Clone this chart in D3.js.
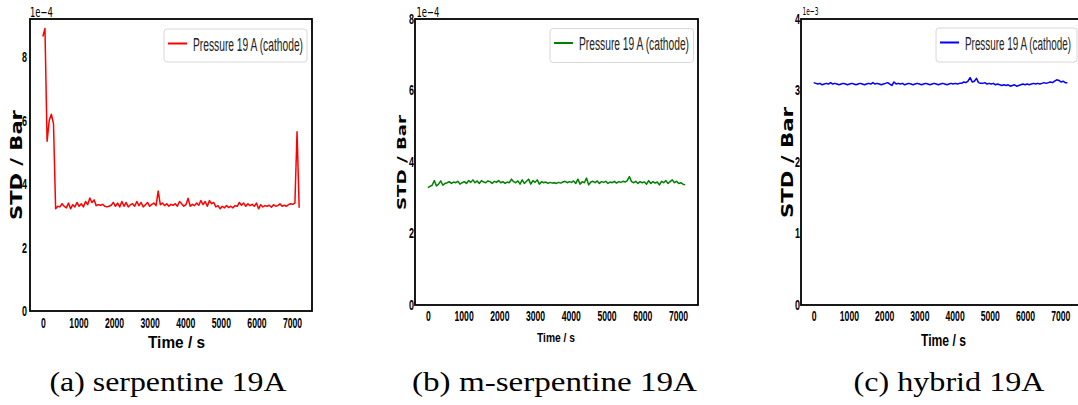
<!DOCTYPE html>
<html><head><meta charset="utf-8">
<script src="https://cdn.jsdelivr.net/npm/d3@7"></script>
<style>html,body{margin:0;padding:0;background:#fff;}svg{display:block;}</style>
</head><body>
<svg id="chart" width="1078" height="405"></svg>
<script>
// ---- data ----
const sampleInterval = 60; // s
const xTicks = [0,1000,2000,3000,4000,5000,6000,7000];
const yTicksA = [0,2,4,6,8];
const yTicksB = [0,2,4,6,8];
const yTicksC = [0,1,2,3,4];
const legendLabel = "Pressure 19 A (cathode)";
const captions = ["(a) serpentine 19A", "(b) m-serpentine 19A", "(c) hybrid 19A"];
const offsetTexts = ["1e\u22124", "1e\u22124", "1e\u22123"];
// STD in units of 1e-4 bar
const serpentine = [
 8.65,8.90,5.35,6.00,6.20,5.90,3.22,3.30,3.28,3.38,
 3.30,3.25,3.40,3.22,3.35,3.28,3.42,3.30,3.38,3.28,
 3.45,3.35,3.56,3.42,3.50,3.32,3.35,3.33,3.36,3.30,
 3.28,3.30,3.33,3.42,3.30,3.40,3.28,3.45,3.30,3.42,
 3.28,3.35,3.38,3.30,3.45,3.32,3.42,3.28,3.35,3.42,
 3.30,3.36,3.40,3.32,3.78,3.35,3.40,3.32,3.38,3.30,
 3.36,3.33,3.38,3.30,3.45,3.38,3.30,3.35,3.55,3.30,
 3.36,3.32,3.40,3.33,3.48,3.35,3.45,3.30,3.48,3.38,
 3.42,3.28,3.32,3.22,3.30,3.25,3.32,3.26,3.30,3.25,
 3.32,3.30,3.42,3.33,3.40,3.30,3.38,3.32,3.36,3.30,
 3.40,3.22,3.35,3.28,3.32,3.30,3.33,3.27,3.35,3.30,
 3.32,3.38,3.30,3.33,3.30,3.35,3.38,3.36,3.40,5.65,
 3.25];
// STD in units of 1e-4 bar
const mSerpentine = [
 3.28,3.32,3.35,3.48,3.33,3.38,3.47,3.35,3.40,3.42,
 3.45,3.40,3.44,3.42,3.46,3.38,3.42,3.45,3.40,3.48,
 3.43,3.50,3.42,3.47,3.40,3.48,3.44,3.42,3.47,3.45,
 3.40,3.46,3.43,3.48,3.42,3.45,3.40,3.44,3.42,3.52,
 3.45,3.42,3.47,3.38,3.50,3.40,3.46,3.52,3.38,3.48,
 3.43,3.50,3.38,3.45,3.42,3.44,3.40,3.43,3.41,3.42,
 3.40,3.43,3.41,3.44,3.46,3.42,3.45,3.43,3.47,3.40,
 3.52,3.38,3.45,3.42,3.55,3.36,3.44,3.46,3.42,3.47,
 3.40,3.45,3.43,3.46,3.40,3.44,3.42,3.46,3.41,3.45,
 3.43,3.46,3.44,3.48,3.59,3.45,3.42,3.46,3.40,3.45,
 3.42,3.44,3.38,3.48,3.40,3.45,3.41,3.44,3.36,3.46,
 3.42,3.48,3.40,3.45,3.50,3.42,3.46,3.40,3.42,3.38,
 3.36];
// STD in units of 1e-3 bar
const hybrid = [
 3.11,3.10,3.09,3.10,3.08,3.09,3.10,3.09,3.11,3.09,
 3.10,3.09,3.08,3.09,3.10,3.09,3.08,3.09,3.10,3.09,
 3.08,3.09,3.10,3.09,3.08,3.09,3.10,3.09,3.11,3.09,
 3.10,3.09,3.08,3.09,3.10,3.11,3.09,3.07,3.12,3.09,
 3.10,3.09,3.10,3.08,3.09,3.10,3.09,3.08,3.09,3.10,
 3.09,3.08,3.09,3.10,3.09,3.08,3.09,3.10,3.09,3.08,
 3.09,3.10,3.09,3.08,3.09,3.10,3.09,3.10,3.09,3.10,
 3.10,3.12,3.11,3.13,3.18,3.12,3.13,3.17,3.11,3.10,
 3.10,3.11,3.09,3.10,3.09,3.10,3.08,3.09,3.08,3.07,
 3.08,3.07,3.08,3.06,3.07,3.08,3.06,3.07,3.08,3.09,
 3.08,3.09,3.08,3.09,3.10,3.09,3.10,3.09,3.10,3.11,
 3.10,3.11,3.12,3.11,3.13,3.15,3.14,3.12,3.13,3.11,
 3.11];

// ---- layout ----
const svg = d3.select("#chart");
const panels = [
  {values: serpentine, yTicks: yTicksA, ymax: 9.2, color: "#ff0000",
   L: 30, R: 312, T: 19, B: 311, xPad: 7, yPad: 3, tickFs: 14,
   legend: {x: 164, y: 29, w: 143, h: 33}, legTextW: 110,
   yLab: {x: 22, y: 165, len: 110, fs: 16},
   xLab: {x: 176.5, y: 348, len: 57, fs: 17},
   off: {x: 30, y: 16.5, len: 23, fs: 14},
   cap: {x: 168, len: 237}},
  {values: mSerpentine, yTicks: yTicksB, ymax: 8, color: "#008000",
   L: 415, R: 698, T: 19, B: 305, xPad: 6.5, yPad: 1, tickFs: 14,
   legend: {x: 550, y: 28.5, w: 143.5, h: 34}, legTextW: 110,
   yLab: {x: 406, y: 162.5, len: 95, fs: 12},
   xLab: {x: 556, y: 342, len: 38, fs: 13},
   off: {x: 416.5, y: 16.5, len: 23, fs: 14},
   cap: {x: 554.5, len: 285}},
  {values: hybrid, yTicks: yTicksC, ymax: 4, color: "#0000ff",
   L: 801, R: 1080, T: 19, B: 305, xPad: 6.5, yPad: 1, tickFs: 14,
   legend: {x: 936, y: 28, w: 141, h: 34}, legTextW: 106,
   yLab: {x: 793, y: 162.5, len: 111, fs: 15},
   xLab: {x: 943.5, y: 346, len: 45, fs: 16},
   off: {x: 802.5, y: 14.5, len: 16, fs: 11},
   cap: {x: 949, len: 191}}
];

const times = serpentine.map((_, i) => i * sampleInterval);

panels.forEach((p, pi) => {
  const g = svg.append("g");
  const x = d3.scaleLinear().domain([-360, 7560]).range([p.L, p.R]);
  const y = d3.scaleLinear().domain([0, p.ymax]).range([p.B, p.T]);

  // line
  const line = d3.line().x((d, i) => x(times[i])).y(d => y(d));
  g.append("path").datum(p.values)
    .attr("d", line).attr("fill", "none")
    .attr("stroke", p.color).attr("stroke-width", 1.5)
    .attr("stroke-linejoin", "round");

  // axes box
  g.append("rect").attr("x", p.L).attr("y", p.T)
    .attr("width", p.R - p.L).attr("height", p.B - p.T)
    .attr("fill", "none").attr("stroke", "#000").attr("stroke-width", 1.8);

  // x axis
  const xa = g.append("g").attr("transform", `translate(0,${p.B})`)
    .call(d3.axisBottom(x).tickValues(xTicks).tickSize(0).tickPadding(p.xPad).tickFormat(d3.format("d")));
  xa.select(".domain").remove();
  xa.selectAll("text")
    .attr("font-family", "'Liberation Sans', Arial, sans-serif")
    .attr("font-weight", "bold").attr("font-size", p.tickFs).attr("fill", "#000")
    .attr("textLength", d => String(d).length * 4.8)
    .attr("lengthAdjust", "spacingAndGlyphs");

  // y axis
  const ya = g.append("g").attr("transform", `translate(${p.L},0)`)
    .call(d3.axisLeft(y).tickValues(p.yTicks).tickSize(0).tickPadding(p.yPad).tickFormat(d3.format("d")));
  ya.select(".domain").remove();
  ya.selectAll("text")
    .attr("font-family", "'Liberation Sans', Arial, sans-serif")
    .attr("font-weight", "bold").attr("font-size", p.tickFs).attr("fill", "#000")
    .attr("textLength", d => String(d).length * 5)
    .attr("lengthAdjust", "spacingAndGlyphs");

  // offset text
  g.append("text").attr("x", p.off.x).attr("y", p.off.y)
    .attr("font-family", "'DejaVu Sans', sans-serif").attr("font-size", p.off.fs)
    .attr("textLength", p.off.len).attr("lengthAdjust", "spacingAndGlyphs")
    .text(offsetTexts[pi]);

  // y label (baseline at yLab.x)
  g.append("text")
    .attr("transform", `translate(${p.yLab.x},${p.yLab.y}) rotate(-90)`)
    .attr("text-anchor", "middle")
    .attr("font-family", "'DejaVu Sans', sans-serif").attr("font-weight", "bold")
    .attr("font-size", p.yLab.fs)
    .attr("textLength", p.yLab.len).attr("lengthAdjust", "spacingAndGlyphs")
    .text("STD / Bar");

  // x label
  g.append("text").attr("x", p.xLab.x).attr("y", p.xLab.y)
    .attr("text-anchor", "middle")
    .attr("font-family", "'Liberation Sans', Arial, sans-serif").attr("font-weight", "bold")
    .attr("font-size", p.xLab.fs)
    .attr("textLength", p.xLab.len).attr("lengthAdjust", "spacingAndGlyphs")
    .text("Time / s");

  // legend
  const lg = p.legend;
  g.append("rect").attr("x", lg.x).attr("y", lg.y).attr("width", lg.w).attr("height", lg.h)
    .attr("rx", 3).attr("fill", "#fff").attr("fill-opacity", 0.8)
    .attr("stroke", "#d8d8d8").attr("stroke-width", 1);
  g.append("line").attr("x1", lg.x + 4).attr("x2", lg.x + 23)
    .attr("y1", lg.y + 14.5).attr("y2", lg.y + 14.5)
    .attr("stroke", p.color).attr("stroke-width", 2);
  g.append("text").attr("x", lg.x + 29).attr("y", lg.y + 21.5)
    .attr("font-family", "'Liberation Sans', Arial, sans-serif").attr("font-size", 18)
    .attr("textLength", p.legTextW).attr("lengthAdjust", "spacingAndGlyphs")
    .attr("fill", "#222")
    .text(legendLabel);

  // caption
  svg.append("text").attr("x", p.cap.x).attr("y", 391)
    .attr("text-anchor", "middle")
    .attr("font-family", "'Liberation Serif', 'DejaVu Serif', serif").attr("font-size", 28)
    .attr("textLength", p.cap.len).attr("lengthAdjust", "spacingAndGlyphs")
    .text(captions[pi]);
});
</script>
</body></html>
